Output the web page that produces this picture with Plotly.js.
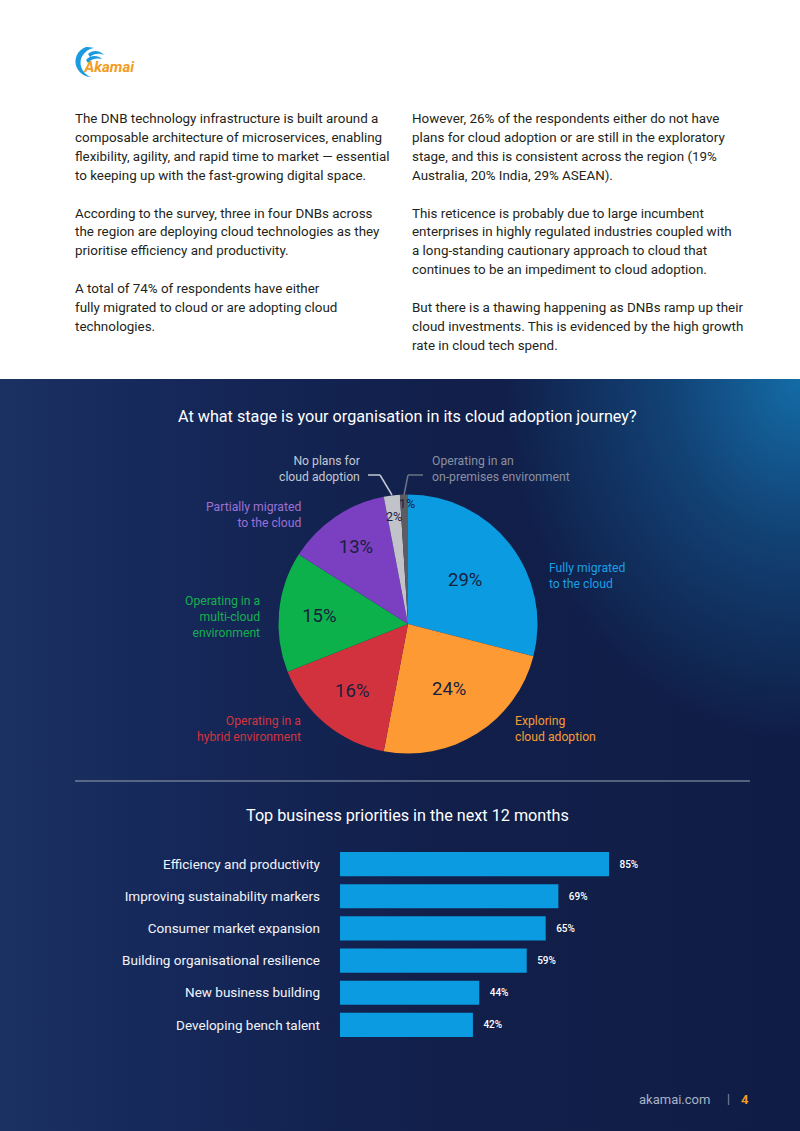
<!DOCTYPE html>
<html>
<head>
<meta charset="utf-8">
<script src="https://cdn.plot.ly/plotly-3.0.1.min.js"></script>
<style>
  html, body { margin:0; padding:0; }
  body { width:800px; height:1131px; position:relative; background:#fff; font-family: Roboto, "Noto Sans", sans-serif; overflow:hidden; }
  #logo { position:absolute; left:72px; top:44px; }
  .col { position:absolute; top:110px; font-size:13.4px; line-height:18.9px; color:#231f20; white-space:nowrap; }
  #left { left:75px; }
  #right { left:412px; }
  #dark { position:absolute; left:0; top:379px; width:800px; height:752px;
    background:
      radial-gradient(ellipse 300px 360px at 100% 0%, rgba(20,112,172,0.95) 0%, rgba(20,100,160,0.5) 45%, rgba(20,100,160,0) 100%),
      linear-gradient(90deg, #1b3162 0%, #16295b 18%, #111f4a 55%, #0f1d46 100%);
  }
  #chart { position:absolute; left:0; top:0; width:800px; height:752px; }
</style>
</head>
<body>
<svg id="logo" width="80" height="36" viewBox="0 0 80 36">
  <path d="M14 3 C5 6 1 16 5 24 C8 30 14 33 19 33 C11 30 7 22 9 15 C11 9 16 5 22 4 C19 3 16 3 14 3 Z" fill="#1a9be0"/>
  <path d="M16 10 C20 6 28 6 32 11 C28 9 22 9 18 13 Z" fill="#1a9be0"/>
  <path d="M14 16 C18 11 26 11 30 15 C26 14 20 14 16 19 Z" fill="#1a9be0"/>
  <text x="12.5" y="28" font-family="Roboto, sans-serif" font-style="italic" font-weight="700" font-size="15" fill="#f39c24">Akamai</text>
</svg>

<div class="col" id="left">The DNB technology infrastructure is built around a<br>composable architecture of microservices, enabling<br>flexibility, agility, and rapid time to market — essential<br>to keeping up with the fast-growing digital space.<br><br>According to the survey, three in four DNBs across<br>the region are deploying cloud technologies as they<br>prioritise efficiency and productivity.<br><br>A total of 74% of respondents have either<br>fully migrated to cloud or are adopting cloud<br>technologies.</div>

<div class="col" id="right">However, 26% of the respondents either do not have<br>plans for cloud adoption or are still in the exploratory<br>stage, and this is consistent across the region (19%<br>Australia, 20% India, 29% ASEAN).<br><br>This reticence is probably due to large incumbent<br>enterprises in highly regulated industries coupled with<br>a long-standing cautionary approach to cloud that<br>continues to be an impediment to cloud adoption.<br><br>But there is a thawing happening as DNBs ramp up their<br>cloud investments. This is evidenced by the high growth<br>rate in cloud tech spend.</div>

<div id="dark"><div id="chart"></div></div>

<script>
// ---- data ----
const pieTitle = 'At what stage is your organisation in its cloud adoption journey?';
const stageLabels = [
  'Fully migrated<br>to the cloud',
  'Exploring<br>cloud adoption',
  'Operating in a<br>hybrid environment',
  'Operating in a<br>multi-cloud<br>environment',
  'Partially migrated<br>to the cloud',
  'No plans for<br>cloud adoption',
  'Operating in an<br>on-premises environment'
];
const stageValues = [29, 24, 16, 15, 13, 2, 1];

const barTitle = 'Top business priorities in the next 12 months';
const priorities = [
  'Efficiency and productivity',
  'Improving sustainability markers',
  'Consumer market expansion',
  'Building organisational resilience',
  'New business building',
  'Developing bench talent'
];
const priorityValues = [85, 69, 65, 59, 44, 42];

const footerSite = 'akamai.com';
const footerPage = '4';

// ---- styles ----
const stageColors = ['#0b9be0', '#fd9a34', '#d2323d', '#0db14b', '#7b3fc1', '#c2c3ca', '#5b5d63'];
const stageLabelColors = ['#1d9ee2', '#f59c35', '#d2343e', '#14b04f', '#9c70d4', '#c3c7cf', '#8a90a0'];
// label anchor: [x px, y px, xanchor]
const stageLabelPos = [
  [547, 575.5, 'left'], [513, 728.5, 'left'], [303, 728.5, 'right'],
  [262, 617, 'right'], [303, 515.5, 'right'], [362, 469.5, 'right'], [430, 469.5, 'left']
];

const TOP = 379, H = 752, W = 800;
const px = x => x / W;
const py = y => 1 - (y - TOP) / H;

const cx = 408, cy = 624, R = 129.5;
const fontFam = 'Roboto, "Noto Sans", sans-serif';
const darkText = '#17203f';

const pie = {
  type: 'pie',
  labels: stageLabels,
  values: stageValues,
  sort: false,
  direction: 'clockwise',
  rotation: 0,
  marker: { colors: stageColors, line: { width: 0 } },
  texttemplate: stageValues.map(v => v >= 5 ? '%{value}%' : ''),
  textposition: 'inside',
  insidetextorientation: 'horizontal',
  textfont: { family: fontFam, size: 18.5, color: darkText },
  hoverinfo: 'label+value',
  showlegend: false,
  domain: { x: [px(cx - R), px(cx + R)], y: [py(cy + R), py(cy - R)] }
};

const bar = {
  type: 'bar',
  orientation: 'h',
  x: priorityValues,
  y: priorities,
  marker: { color: '#0b9be0' },
  texttemplate: '\u00a0\u00a0\u00a0%{x}%',
  textposition: 'outside',
  cliponaxis: false,
  textfont: { family: fontFam, size: 10, color: '#ffffff', weight: 500 },
  showlegend: false,
  hoverinfo: 'x+y'
};

const annotations = [];
annotations.push({ xref: 'paper', yref: 'paper', x: px(407), y: py(417), text: pieTitle, showarrow: false,
  xanchor: 'center', yanchor: 'middle', font: { family: fontFam, size: 16.2, color: '#ffffff' } });
annotations.push({ xref: 'paper', yref: 'paper', x: px(407), y: py(815), text: barTitle, showarrow: false,
  xanchor: 'center', yanchor: 'middle', font: { family: fontFam, size: 16.2, color: '#ffffff' } });

stageLabels.forEach((lab, i) => {
  const p = stageLabelPos[i];
  annotations.push({ xref: 'paper', yref: 'paper', x: px(p[0]), y: py(p[1]), text: lab, showarrow: false,
    xanchor: p[2], yanchor: 'middle', align: p[2], font: { family: fontFam, size: 12.2, color: stageLabelColors[i] } });
});

// small-slice percentages placed from the data angles
const total = stageValues.reduce((a, b) => a + b, 0);
let cum = 0;
stageValues.forEach((v, i) => {
  const mid = cum + v / 2;
  cum += v;
  if (v >= 5) return;
  const ang = mid / total * 2 * Math.PI;
  const r = v >= 2 ? 108 : 121;
  const x = cx + r * Math.sin(ang) + (v < 2 ? 3 : 0);
  const y = cy - r * Math.cos(ang);
  annotations.push({ xref: 'paper', yref: 'paper', x: px(x), y: py(y), text: v + '%', showarrow: false,
    xanchor: 'center', yanchor: 'middle', font: { family: fontFam, size: 12.5, color: darkText } });
});

annotations.push({ xref: 'paper', yref: 'paper', x: px(712), y: py(1099), text: footerSite, showarrow: false,
  xanchor: 'right', yanchor: 'middle', font: { family: fontFam, size: 13, color: '#aab3c5' } });
annotations.push({ xref: 'paper', yref: 'paper', x: px(728), y: py(1099), text: '|', showarrow: false,
  xanchor: 'center', yanchor: 'middle', font: { family: fontFam, size: 12, color: '#8a93a8' } });
annotations.push({ xref: 'paper', yref: 'paper', x: px(745), y: py(1099), text: footerPage, showarrow: false,
  xanchor: 'center', yanchor: 'middle', font: { family: fontFam, size: 13, color: '#f39c24', weight: 700 } });

const seg = (x0, y0, x1, y1, c) => ({ type: 'line', xref: 'paper', yref: 'paper',
  x0: px(x0), y0: py(y0), x1: px(x1), y1: py(y1), line: { color: c, width: 1.5 } });

const shapes = [
  seg(368, 475, 380, 475, '#c3c7cf'), seg(380, 475, 392, 495, '#c3c7cf'),
  seg(423, 475, 408, 475, '#6d7385'), seg(408, 475, 404, 495, '#6d7385'),
  { type: 'line', xref: 'paper', yref: 'paper', x0: px(75), x1: px(750), y0: py(781), y1: py(781),
    line: { color: 'rgba(140,150,168,0.75)', width: 1.5 } }
];

const barScale = 269 / 85; // px per percent
const xDomPx = [340, 720];

const layout = {
  width: W, height: H,
  margin: { l: 0, r: 0, t: 0, b: 0 },
  paper_bgcolor: 'rgba(0,0,0,0)',
  plot_bgcolor: 'rgba(0,0,0,0)',
  font: { family: fontFam },
  bargap: 0.25,
  xaxis: { domain: [px(xDomPx[0]), px(xDomPx[1])], range: [0, (xDomPx[1] - xDomPx[0]) / barScale],
    showgrid: false, zeroline: false, showticklabels: false, showline: false, fixedrange: true },
  yaxis: { domain: [py(1041), py(848)], autorange: 'reversed', showgrid: false, zeroline: false,
    showline: false, ticks: '', ticklabelstandoff: 19,
    tickfont: { family: fontFam, size: 13.5, color: '#f2f4f8' } },
  annotations: annotations,
  shapes: shapes
};

Plotly.newPlot('chart', [pie, bar], layout, { displayModeBar: false, staticPlot: true });
</script>
</body>
</html>
